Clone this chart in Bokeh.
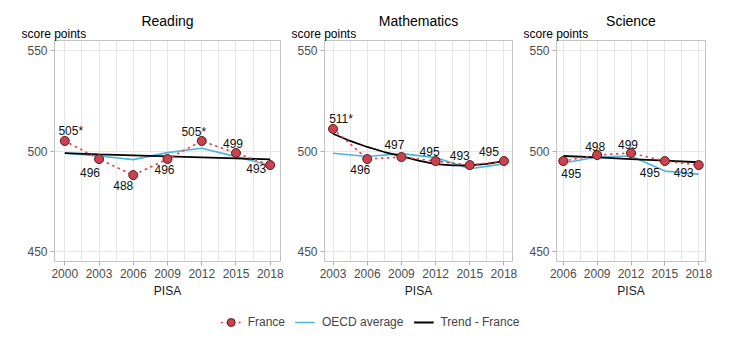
from bokeh.plotting import figure
from bokeh.layouts import row, column
from bokeh.models import (ColumnDataSource, Range1d, FixedTicker, Title, Legend, LegendItem)
from bokeh.core.properties import value
from bokeh.embed import file_html
from bokeh.resources import INLINE

# ---------------- data ----------------
subjects = ["Reading", "Mathematics", "Science"]

read_years = [2000, 2003, 2006, 2009, 2012, 2015, 2018]
read_france = [505, 496, 488, 496, 505, 499, 493]
read_labels = ["505*", "496", "488", "496", "505*", "499", "493"]
read_oecd = [498.9, 497.5, 495.7, 499.2, 501.4, 497.2, 492.8]
read_trend_years = [2000, 2003, 2006, 2009, 2012, 2015, 2018]
read_trend = [498.9, 498.3, 497.8, 497.3, 496.8, 496.3, 495.8]

math_years = [2003, 2006, 2009, 2012, 2015, 2018]
math_france = [511, 496, 497, 495, 493, 495]
math_labels = ["511*", "496", "497", "495", "493", "495"]
math_oecd = [498.9, 497.3, 498.7, 496.7, 491.2, 493.6]
math_trend_years = [2003, 2004.5, 2006, 2007.5, 2009, 2010.5, 2012, 2013.5, 2015, 2016.5, 2018]
math_trend = [508.6, 505.0, 502.0, 499.5, 497.5, 495.2, 493.5, 492.8, 492.8, 493.6, 495.0]

sci_years = [2006, 2009, 2012, 2015, 2018]
sci_france = [495, 498, 499, 495, 493]
sci_labels = ["495", "498", "499", "495", "493"]
sci_oecd = [494.0, 497.0, 497.5, 490.0, 488.5]
sci_trend_years = [2006, 2009, 2012, 2015, 2018]
sci_trend = [497.5, 496.8, 496.0, 495.2, 494.4]

y_ticks = [450, 500, 550]
x_axis_label = "PISA"
y_axis_label = "score points"
legend_labels = ["France", "OECD average", "Trend - France"]

# ---------------- style ----------------
FONT = "Liberation Sans"
RED_LINE = "#E8414B"
RED_FILL = "#C8434D"
RED_EDGE = "#5E1A1F"
BLUE = "#4DB6DB"
GRID = "#E6E6E6"
FRAME = "#C4C4C4"

# label offsets (screen px; +y = down) per panel
read_off = ([6, -9, -10, -3, -8, -3, -14], [-10, 13, 10, 10, -9, -10, 3])
math_off = ([8, -7, -7, -6, -10, -15], [-10, 10, -13, -10, -10, -10])
sci_off = ([8, -2, -3, -15, -15], [12, -9, -9, 11, 7])

panels = [
    dict(title=subjects[0], years=read_years, fr=read_france, lab=read_labels, oecd=read_oecd,
         ty=read_trend_years, tr=read_trend, off=read_off, xr=(1999.1, 2018.9), fw=226, bl=54, br=10),
    dict(title=subjects[1], years=math_years, fr=math_france, lab=math_labels, oecd=math_oecd,
         ty=math_trend_years, tr=math_trend, off=math_off, xr=(2002.25, 2018.75), fw=188, bl=34, br=10),
    dict(title=subjects[2], years=sci_years, fr=sci_france, lab=sci_labels, oecd=sci_oecd,
         ty=sci_trend_years, tr=sci_trend, off=sci_off, xr=(2005.4, 2018.6), fw=149, bl=34, br=35),
]

figs = []
for pn in panels:
    p = figure(frame_width=pn["fw"], frame_height=221, x_range=Range1d(*pn["xr"]),
               y_range=Range1d(445, 555), output_backend="svg", toolbar_location=None,
               min_border_left=pn["bl"], min_border_right=pn["br"], min_border_top=40,
               min_border_bottom=41, background_fill_color="white", border_fill_color="white")
    p.title.text = pn["title"]
    p.title.align = "center"
    p.title.standoff = -9
    p.title.text_font = FONT
    p.title.text_font_size = "14px"
    p.title.text_font_style = "normal"
    p.title.text_color = "black"
    p.add_layout(Title(text=y_axis_label, align="left", offset=-33, text_font=FONT,
                       text_font_size="12px", text_font_style="normal", text_color="black",
                       standoff=0), "above")
    p.outline_line_color = FRAME
    p.outline_line_width = 1
    yrs = pn["years"]
    minors = [(a + b) / 2 for a, b in zip(yrs[:-1], yrs[1:])]
    p.xaxis.ticker = FixedTicker(ticks=yrs, minor_ticks=minors)
    p.yaxis.ticker = FixedTicker(ticks=y_ticks)
    for ax in (p.xaxis[0], p.yaxis[0]):
        ax.axis_line_color = None
        ax.major_tick_line_color = "#AFAFAF"
        ax.major_tick_in = 0
        ax.major_tick_out = 4
        ax.minor_tick_line_color = None
        ax.major_label_text_font = FONT
        ax.major_label_text_font_size = "12px"
        ax.major_label_text_color = "#4D4D4D"
        ax.major_label_standoff = 3
    p.xaxis.axis_label = x_axis_label
    p.xaxis.axis_label_text_font = FONT
    p.xaxis.axis_label_text_font_size = "12px"
    p.xaxis.axis_label_text_font_style = "normal"
    p.xaxis.axis_label_text_color = "#1A1A1A"
    p.xaxis.axis_label_standoff = 3
    p.xgrid.grid_line_color = GRID
    p.xgrid.minor_grid_line_color = GRID
    p.ygrid.grid_line_color = GRID

    src = ColumnDataSource(dict(x=yrs, y=pn["fr"], lab=pn["lab"], oecd=pn["oecd"],
                                dx=pn["off"][0], dy=pn["off"][1]))
    tsrc = ColumnDataSource(dict(x=pn["ty"], y=pn["tr"]))
    p.line("x", "oecd", source=src, line_color=BLUE, line_width=1.6)
    p.line("x", "y", source=tsrc, line_color="black", line_width=1.8)
    p.line("x", "y", source=src, line_color=RED_LINE, line_width=1.7, line_dash="1 5", line_cap="round")
    p.scatter("x", "y", source=src, size=9, fill_color=RED_FILL, line_color=RED_EDGE, line_width=1)
    p.text("x", "y", text="lab", source=src, x_offset="dx", y_offset="dy",
           text_font=value(FONT), text_font_size="12px", text_color="#111111",
           text_align="center", text_baseline="middle")
    figs.append(p)

# legend strip
lg = figure(width=740, height=39, x_range=Range1d(0, 1), y_range=Range1d(0, 1),
            output_backend="svg", toolbar_location=None, min_border=0,
            outline_line_color=None, background_fill_color="white", border_fill_color="white")
lg.axis.visible = False
lg.grid.visible = False
off_x = [-5, -4]
off_y = [-5, -4]
r1 = lg.line(off_x, off_y, line_color=RED_LINE, line_width=1.7, line_dash="1 5", line_cap="round")
r2 = lg.scatter(off_x, off_y, size=9, fill_color=RED_FILL, line_color=RED_EDGE)
r3 = lg.line(off_x, off_y, line_color=BLUE, line_width=1.6)
r4 = lg.line(off_x, off_y, line_color="black", line_width=1.8)
legend = Legend(items=[LegendItem(label=legend_labels[0], renderers=[r1, r2]),
                       LegendItem(label=legend_labels[1], renderers=[r3]),
                       LegendItem(label=legend_labels[2], renderers=[r4])],
                orientation="horizontal", location="center", border_line_color=None,
                background_fill_alpha=0, label_text_font=FONT, label_text_font_size="12px",
                glyph_width=20, label_standoff=7, spacing=10, padding=0, margin=0)
lg.add_layout(legend, "center")

layout = column(row(*figs, spacing=0), lg, spacing=0)
open("out.html", "w").write(file_html(layout, INLINE))
